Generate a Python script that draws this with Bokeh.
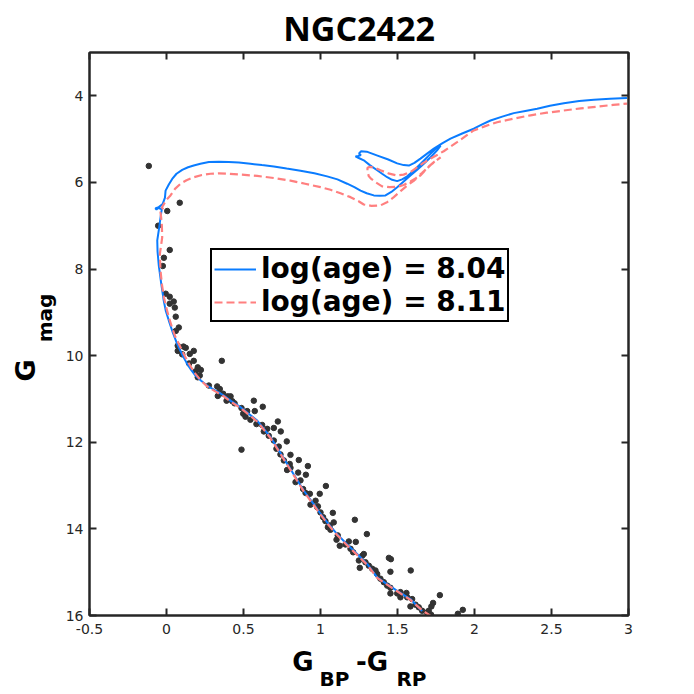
from bokeh.plotting import figure
from bokeh.layouts import row, column
from bokeh.models import (Range1d, LinearAxis, FixedTicker, Legend, LegendItem,
                          CustomJSTickFormatter)
from bokeh.core.properties import value
from bokeh.embed import file_html
from bokeh.resources import INLINE
import math

# ---------------- data ----------------
star_bp_rp = [-0.115, 0.086, 0.005, -0.054, 0.021, -0.017, -0.024, -0.005, 0.021, 0.047,
              0.021, 0.054, 0.060, 0.080, 0.060, 0.073, 0.110, 0.125, 0.073, 0.177,
              0.151, 0.102, 0.177, 0.359, 0.147, 0.203, 0.223, 0.190, 0.216, 0.203,
              0.275, 0.329, 0.346, 0.333, 0.368, 0.398, 0.416, 0.390, 0.427, 0.442,
              0.567, 0.487, 0.524, 0.573, 0.625, 0.498, 0.513, 0.545, 0.584, 0.621,
              0.723, 0.654, 0.697, 0.632, 0.742, 0.664, 0.697, 0.729, 0.781, 0.714,
              0.487, 0.740, 0.805, 0.859, 0.762, 0.800, 0.918, 0.783, 0.805, 0.855,
              0.905, 0.870, 0.838, 1.035, 0.887, 0.903, 0.995, 0.931, 0.968, 0.935,
              0.983, 1.000, 1.080, 1.017, 1.032, 1.086, 1.223, 1.060, 0.979, 1.048,
              1.065, 1.301, 1.112, 1.104, 1.184, 1.229, 1.125, 1.162, 1.195, 1.212,
              1.271, 1.281, 1.249, 1.255, 1.292, 1.314, 1.336, 1.357, 1.444, 1.457,
              1.454, 1.586, 1.368, 1.389, 1.411, 1.433, 1.454, 1.498, 1.519, 1.558,
              1.454, 1.519, 1.563, 1.595, 1.584, 1.617, 1.638, 1.660, 1.692, 1.703,
              1.718, 1.731, 1.720, 1.775, 1.892, 1.924]
star_gmag = [5.62, 6.47, 6.66, 7.00, 7.56, 7.74, 7.93, 8.57, 8.64, 8.75,
             8.80, 8.89, 9.10, 9.35, 9.43, 9.77, 9.79, 9.82, 9.89, 9.89,
             9.96, 9.97, 10.12, 10.12, 10.18, 10.27, 10.33, 10.36, 10.46, 10.50,
             10.69, 10.71, 10.77, 10.93, 10.88, 10.94, 10.94, 11.04, 11.05, 11.10,
             11.04, 11.21, 11.28, 11.28, 11.18, 11.34, 11.41, 11.48, 11.58, 11.60,
             11.52, 11.69, 11.67, 11.75, 11.75, 11.85, 11.96, 12.10, 11.98, 12.15,
             12.17, 12.28, 12.29, 12.41, 12.42, 12.50, 12.55, 12.64, 12.59, 12.70,
             12.75, 12.88, 12.92, 13.01, 13.08, 13.17, 13.19, 13.19, 13.35, 13.44,
             13.48, 13.62, 13.63, 13.73, 13.82, 13.85, 13.79, 13.92, 13.50, 13.96,
             14.02, 14.12, 14.15, 14.25, 14.29, 14.30, 14.39, 14.36, 14.46, 14.54,
             14.62, 14.58, 14.73, 14.90, 14.77, 14.85, 14.92, 14.96, 14.67, 14.70,
             14.99, 14.96, 15.04, 15.15, 15.23, 15.31, 15.36, 15.49, 15.46, 15.48,
             15.49, 15.58, 15.58, 15.62, 15.79, 15.75, 15.81, 15.89, 15.93, 15.89,
             15.98, 15.71, 15.79, 15.53, 15.96, 15.87]

iso_804_color = [1.66, 1.584, 1.498, 1.43, 1.368, 1.303, 1.238, 1.17, 1.108, 1.05,
                 1.0, 0.95, 0.892, 0.84, 0.784, 0.73, 0.675, 0.63, 0.589, 0.53,
                 0.481, 0.42, 0.372, 0.32, 0.264, 0.225, 0.188, 0.16, 0.134, 0.10,
                 0.069, 0.04, 0.015, -0.005, -0.018, -0.034, -0.05, -0.058, -0.06, -0.05,
                 -0.043, -0.034, -0.03, -0.06, -0.072, -0.065, -0.05, -0.025, -0.01, -0.006,
                 0.015, 0.037, 0.065, 0.102, 0.14, 0.177, 0.22, 0.275, 0.34, 0.404,
                 0.47, 0.545, 0.62, 0.697, 0.78, 0.87, 0.96, 1.043, 1.11, 1.173,
                 1.22, 1.26, 1.30, 1.346, 1.385, 1.422, 1.46, 1.498, 1.54, 1.584,
                 1.63, 1.671, 1.715, 1.757, 1.78,
                 1.75, 1.714, 1.67, 1.628, 1.595, 1.563, 1.53, 1.498, 1.465, 1.433,
                 1.40, 1.368, 1.32, 1.281, 1.245, 1.227, 1.245, 1.262, 1.25, 1.264,
                 1.30, 1.37, 1.44, 1.498, 1.54, 1.574, 1.61, 1.649, 1.69, 1.736,
                 1.79, 1.844, 1.92, 1.995, 2.05, 2.104, 2.18, 2.255, 2.33, 2.407,
                 2.49, 2.58, 2.68, 2.775, 2.88, 2.99]
iso_804_gmag = [15.90, 15.62, 15.43, 15.27, 15.12, 14.81, 14.58, 14.35, 14.12, 13.88,
                13.65, 13.40, 13.12, 12.82, 12.50, 12.19, 11.88, 11.68, 11.50, 11.33,
                11.19, 11.05, 10.92, 10.81, 10.69, 10.58, 10.46, 10.33, 10.19, 9.96,
                9.73, 9.46, 9.19, 8.96, 8.73, 8.34, 7.92, 7.60, 7.34, 7.10,
                6.92, 6.69, 6.62, 6.58, 6.60, 6.63, 6.57, 6.50, 6.35, 6.19,
                6.05, 5.92, 5.80, 5.71, 5.65, 5.61, 5.57, 5.53, 5.52, 5.53,
                5.54, 5.57, 5.60, 5.63, 5.68, 5.73, 5.79, 5.86, 5.93, 6.03,
                6.11, 6.19, 6.25, 6.30, 6.31, 6.30, 6.22, 6.11, 5.98, 5.84,
                5.70, 5.57, 5.42, 5.26, 5.15,
                5.22, 5.34, 5.50, 5.65, 5.76, 5.86, 5.93, 5.97, 5.94, 5.88,
                5.80, 5.72, 5.60, 5.49, 5.43, 5.40, 5.39, 5.37, 5.33, 5.28,
                5.29, 5.38, 5.47, 5.56, 5.60, 5.61, 5.55, 5.45, 5.34, 5.22,
                5.10, 4.99, 4.87, 4.76, 4.66, 4.57, 4.48, 4.40, 4.35, 4.30,
                4.23, 4.17, 4.12, 4.09, 4.07, 4.05]

iso_811_color = [1.72, 1.66, 1.584, 1.498, 1.43, 1.368, 1.303, 1.238, 1.17, 1.108,
                 1.05, 1.0, 0.95, 0.892, 0.84, 0.784, 0.73, 0.675, 0.63, 0.589,
                 0.53, 0.481, 0.42, 0.372, 0.32, 0.264, 0.225, 0.188, 0.155, 0.123,
                 0.09, 0.058, 0.035, 0.015, -0.002, -0.017, -0.03, -0.039, -0.043, -0.035,
                 -0.028, -0.03, -0.035, -0.039, -0.02, -0.03, -0.017, 0.0, 0.026, 0.055,
                 0.091, 0.13, 0.177, 0.23, 0.286, 0.34, 0.394, 0.49, 0.589, 0.70,
                 0.805, 0.90, 1.0, 1.065, 1.13, 1.195, 1.25, 1.281, 1.33, 1.39,
                 1.435, 1.476, 1.52, 1.563, 1.61, 1.649, 1.68, 1.714, 1.75, 1.78,
                 1.74, 1.70, 1.66, 1.62, 1.584, 1.54, 1.50, 1.45, 1.40, 1.36,
                 1.33, 1.314, 1.305, 1.305, 1.32,
                 1.35, 1.39, 1.44, 1.498, 1.54, 1.584, 1.62, 1.66, 1.714, 1.76,
                 1.80, 1.887, 1.995, 2.07, 2.147, 2.25, 2.364, 2.47, 2.58, 2.69,
                 2.797, 2.90, 2.99]
iso_811_gmag = [16.02, 15.88, 15.64, 15.44, 15.28, 15.13, 14.83, 14.60, 14.37, 14.14,
                13.90, 13.67, 13.42, 13.14, 12.84, 12.52, 12.21, 11.90, 11.70, 11.52,
                11.35, 11.21, 11.07, 10.94, 10.83, 10.71, 10.58, 10.42, 10.24, 10.04,
                9.80, 9.57, 9.34, 9.11, 8.88, 8.65, 8.35, 8.03, 7.65, 7.45,
                7.27, 7.00, 6.80, 6.69, 6.62, 6.58, 6.50, 6.40, 6.30, 6.15,
                6.03, 5.95, 5.88, 5.83, 5.80, 5.79, 5.80, 5.82, 5.85, 5.90,
                5.96, 6.03, 6.11, 6.17, 6.25, 6.34, 6.44, 6.51, 6.54, 6.53,
                6.45, 6.34, 6.20, 6.07, 5.95, 5.84, 5.72, 5.60, 5.50, 5.42,
                5.52, 5.64, 5.78, 5.90, 5.98, 6.06, 6.10, 6.11, 6.09, 6.00,
                5.92, 5.86, 5.75, 5.66, 5.64,
                5.66, 5.72, 5.79, 5.84, 5.82, 5.76, 5.67, 5.57, 5.45, 5.36,
                5.28, 5.07, 4.80, 4.70, 4.61, 4.53, 4.45, 4.39, 4.34, 4.29,
                4.25, 4.21, 4.18]

x_ticks = [-0.5, 0, 0.5, 1, 1.5, 2, 2.5, 3]
x_tick_labels = ["-0.5", "0", "0.5", "1", "1.5", "2", "2.5", "3"]
y_ticks = [4, 6, 8, 10, 12, 14, 16]
y_tick_labels = ["4", "6", "8", "10", "12", "14", "16"]
series_labels = ["log(age) = 8.04", "log(age) = 8.11"]
title_text = "NGC2422"
xlabel_parts = ["G", "BP", "-G", "RP"]
ylabel_parts = ["G", "mag"]

# ---------------- layout geometry (canvas pixels) ----------------
W = H = 694
LEFT_W = 60            # strip holding the rotated y-axis title
MAIN_H = 646           # main plot height; strip below holds x-axis title
FRAME_L, FRAME_R, FRAME_T, FRAME_B = 89, 628, 52, 615
AX = "#262626"
LABEL_FONT = "DejaVu Sans"

p = figure(width=W - LEFT_W, height=MAIN_H, output_backend="svg", toolbar_location=None,
           x_range=Range1d(-0.5, 3), y_range=Range1d(16, 3),
           x_axis_location=None, y_axis_location=None,
           min_border_left=FRAME_L - LEFT_W, min_border_right=W - FRAME_R,
           min_border_top=FRAME_T, min_border_bottom=MAIN_H - FRAME_B)
p.xgrid.visible = False
p.ygrid.visible = False
p.outline_line_color = AX
p.outline_line_width = 2
p.background_fill_color = "white"
p.border_fill_color = "white"

p.title.text = title_text
p.title.align = "center"
p.title.text_font = "Open Sans"
p.title.text_font_style = "bold"
p.title.text_font_size = "34px"
p.title.text_color = "black"
p.title.standoff = 4


def style_axis(ax, show_labels):
    ax.axis_line_color = AX
    ax.axis_line_width = 2
    ax.major_tick_line_color = AX
    ax.major_tick_line_width = 2
    ax.major_tick_in = 7
    ax.major_tick_out = 0
    ax.minor_tick_line_color = None
    ax.major_label_text_font = "DejaVu Sans"
    ax.major_label_text_font_size = "14px"
    ax.major_label_text_color = AX
    ax.major_label_standoff = 8
    if not show_labels:
        ax.formatter = CustomJSTickFormatter(code="return ''")


xb = LinearAxis(ticker=FixedTicker(ticks=x_ticks),
                major_label_overrides={t: s for t, s in zip(x_ticks, x_tick_labels)})
xt = LinearAxis(ticker=FixedTicker(ticks=x_ticks))
yl = LinearAxis(ticker=FixedTicker(ticks=y_ticks),
                major_label_overrides={t: s for t, s in zip(y_ticks, y_tick_labels)})
yr = LinearAxis(ticker=FixedTicker(ticks=y_ticks))
style_axis(xb, True)
style_axis(xt, False)
style_axis(yl, True)
style_axis(yr, False)
yl.major_label_standoff = 6
p.add_layout(xb, "below")
p.add_layout(xt, "above")
p.add_layout(yl, "left")
p.add_layout(yr, "right")

# stars
p.scatter(star_bp_rp, star_gmag, size=5.5, marker="circle",
          fill_color="#333333", line_color="#333333")

# isochrones
rb = p.line(iso_804_color, iso_804_gmag, line_color="#0a7cff", line_width=2)
rr = p.line(iso_811_color, iso_811_gmag, line_color="#ff7f7f", line_width=2.2,
            line_dash="8 4")

legend = Legend(items=[LegendItem(label=series_labels[0], renderers=[rb]),
                       LegendItem(label=series_labels[1], renderers=[rr])],
                location=(210 - FRAME_L, FRAME_B - 322),
                label_text_font="DejaVu Sans", label_text_font_style="bold",
                label_text_font_size="28px", label_text_color="black",
                border_line_color="black", border_line_width=2, border_line_alpha=1.0,
                background_fill_color="white", background_fill_alpha=1.0,
                padding=2, spacing=0, margin=0, glyph_width=42,
                label_standoff=5, label_height=30, glyph_height=30)
p.add_layout(legend)

# ---------------- x-axis title strip ----------------
# Its frame is aligned by the column layout with the main frame (FRAME_L..FRAME_R),
# so the x range is expressed directly in canvas pixels.
SH = H - MAIN_H
px = figure(width=W - LEFT_W, height=SH, output_backend="svg",
            toolbar_location=None, x_range=Range1d(FRAME_L, FRAME_R),
            y_range=Range1d(0, SH), x_axis_location=None,
            y_axis_location=None, min_border=0, outline_line_color=None)
px.xgrid.visible = False
px.ygrid.visible = False
px.text(x=[302.5, 371.5], y=[H - 661, H - 661],
        text=[xlabel_parts[0], xlabel_parts[2]],
        text_font=value(LABEL_FONT), text_font_style="bold",
        text_font_size="26px", text_color="black",
        text_baseline="middle", text_align="center")
px.text(x=[334, 411], y=[H - 678, H - 678],
        text=[xlabel_parts[1], xlabel_parts[3]],
        text_font=value(LABEL_FONT), text_font_style="bold",
        text_font_size="20px", text_color="black",
        text_baseline="middle", text_align="center")

# ---------------- y-axis title strip ----------------
py = figure(width=LEFT_W, height=H, output_backend="svg", toolbar_location=None,
            x_range=Range1d(0, LEFT_W), y_range=Range1d(0, H),
            x_axis_location=None, y_axis_location=None, min_border=0,
            outline_line_color=None)
py.xgrid.visible = False
py.ygrid.visible = False
py.text(x=[25], y=[H - 370], text=[ylabel_parts[0]], angle=math.pi / 2,
        text_font=value(LABEL_FONT), text_font_style="bold",
        text_font_size="27px", text_color="black",
        text_baseline="middle", text_align="center")
py.text(x=[44], y=[H - 317.5], text=[ylabel_parts[1]], angle=math.pi / 2,
        text_font=value(LABEL_FONT), text_font_style="bold",
        text_font_size="20px", text_color="black",
        text_baseline="middle", text_align="center")

layout = row(py, column(p, px, spacing=0), spacing=0)
open("out.html", "w").write(file_html(layout, INLINE))
